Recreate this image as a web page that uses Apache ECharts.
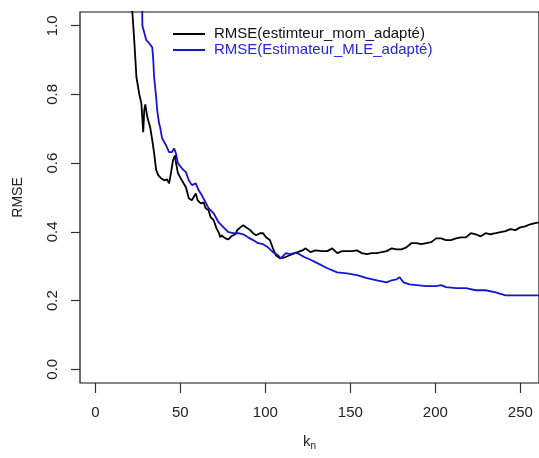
<!DOCTYPE html>
<html>
<head>
<meta charset="utf-8">
<script src="https://cdn.jsdelivr.net/npm/echarts@6/dist/echarts.min.js"></script>
<style>
html,body{margin:0;padding:0;background:#fff;}
#c{width:539px;height:458px;}
</style>
</head>
<body>
<div id="c"></div>
<script>
// k values and RMSE values
const momK = [20.1,21.8,23.0,24.2,24.7,25.9,27.1,27.6,28.2,28.8,29.4,30.6,32.3,33.5,34.6,35.8,37.0,38.7,40.5,42.2,43.4,44.5,45.7,46.9,47.4,48.6,50.9,53.3,55.0,56.8,59.1,60.2,62.0,63.7,64.9,66.6,67.8,69.6,71.3,72.5,73.6,74.2,76.5,78.3,80.0,82.4,83.5,85.3,87.0,88.8,91.1,92.8,94.6,96.9,98.7,100.4,102.7,104.5,106.2,108.6,111.5,114.4,117.3,119.0,121.9,123.7,126.6,129.5,130.6,133.6,136.5,139.4,142.3,145.2,148.1,151.0,153.9,156.8,159.8,162.7,165.6,168.5,171.4,174.3,177.2,180.1,183.0,185.9,188.9,191.8,194.7,197.6,200.5,203.4,206.3,209.2,212.2,215.1,218.0,220.9,223.8,226.7,229.6,232.5,235.5,238.4,241.3,244.2,247.1,250.0,252.9,255.8,258.1,261.6];
const momY = [1.07,1.04,0.95,0.85,0.847,0.80,0.774,0.777,0.69,0.754,0.771,0.734,0.704,0.667,0.629,0.58,0.565,0.556,0.55,0.553,0.541,0.571,0.608,0.623,0.603,0.571,0.55,0.53,0.498,0.492,0.512,0.492,0.483,0.486,0.469,0.463,0.443,0.434,0.41,0.399,0.384,0.39,0.381,0.378,0.387,0.393,0.405,0.413,0.419,0.413,0.405,0.396,0.39,0.396,0.396,0.384,0.376,0.352,0.332,0.323,0.326,0.332,0.338,0.341,0.346,0.352,0.341,0.346,0.346,0.344,0.344,0.352,0.338,0.344,0.344,0.344,0.346,0.338,0.335,0.338,0.338,0.341,0.344,0.352,0.349,0.349,0.355,0.367,0.367,0.364,0.367,0.37,0.381,0.381,0.376,0.376,0.381,0.384,0.384,0.396,0.393,0.387,0.396,0.393,0.396,0.399,0.402,0.408,0.405,0.413,0.416,0.422,0.425,0.428];
const mleK = [27.6,27.6,27.7,30.0,31.7,33.5,34.1,34.6,35.8,36.4,37.5,38.1,39.3,41.6,43.4,45.1,46.3,47.4,48.6,50.9,53.3,55.0,56.8,59.1,60.8,62.6,64.9,66.6,69.6,72.5,75.4,78.3,81.2,84.1,87.0,89.9,92.8,95.8,98.7,101.6,104.5,107.4,109.1,112.1,114.4,117.3,119.0,123.1,124.8,130.6,136.5,142.3,148.1,153.9,159.8,165.6,171.4,174.3,177.2,179.0,181.3,184.8,188.9,194.7,200.5,203.4,206.3,212.2,218.0,223.8,229.6,235.5,241.3,247.1,252.9,258.1,261.6];
const mleY = [1.07,1.04,1.00,0.958,0.949,0.937,0.90,0.85,0.792,0.754,0.716,0.705,0.672,0.652,0.632,0.632,0.643,0.629,0.60,0.585,0.574,0.55,0.536,0.541,0.521,0.507,0.486,0.469,0.454,0.428,0.413,0.399,0.396,0.396,0.393,0.384,0.376,0.367,0.364,0.355,0.341,0.332,0.323,0.338,0.335,0.338,0.338,0.326,0.323,0.309,0.294,0.282,0.279,0.274,0.265,0.259,0.253,0.259,0.262,0.268,0.253,0.247,0.245,0.242,0.242,0.245,0.239,0.236,0.236,0.23,0.23,0.224,0.215,0.215,0.215,0.215,0.215];
const xTicks = [0,50,100,150,200,250];
const yTicks = [0,0.2,0.4,0.6,0.8,1.0];
const seriesNames = ['RMSE(estimteur_mom_adapté)','RMSE(Estimateur_MLE_adapté)'];

const momData = momK.map((k,i)=>[k,momY[i]]);
const mleData = mleK.map((k,i)=>[k,mleY[i]]);

const FONT = 'Liberation Sans, Arial, sans-serif';
const chart = echarts.init(document.getElementById('c'), null, {renderer:'canvas'});
chart.setOption({
  animation:false,
  backgroundColor:'#fff',
  textStyle:{fontFamily:FONT},
  grid:{left:80, top:12, bottom:75, right:-5, show:true, borderColor:'#111', borderWidth:1.2, backgroundColor:'transparent'},
  legend:{
    orient:'vertical', left:168, top:21, itemWidth:32, itemHeight:2, itemGap:0, icon:'rect',
    textStyle:{fontFamily:FONT, fontSize:15, lineHeight:16, padding:[0,0,0,4]},
    data:[
      {name:seriesNames[0], textStyle:{color:'#111'}, itemStyle:{color:'#000'}},
      {name:seriesNames[1], textStyle:{color:'#2525e0'}, itemStyle:{color:'#1515d0'}}
    ]
  },
  xAxis:{
    type:'value', min:-9, max:261,
    splitLine:{show:false}, axisLine:{show:false, onZero:false},
    axisTick:{show:true, inside:false, length:10, customValues:xTicks, lineStyle:{color:'#333', width:1.2}},
    axisLabel:{customValues:xTicks, margin:22, fontSize:15, color:'#222', fontFamily:FONT},
    name:'{k|k}{n|n}', nameLocation:'middle', nameGap:51,
    nameTextStyle:{rich:{
      k:{fontSize:15, color:'#222', fontFamily:FONT, verticalAlign:'top', lineHeight:16},
      n:{fontSize:10, color:'#222', fontFamily:FONT, verticalAlign:'top', lineHeight:10, padding:[7,0,0,0]}
    }}
  },
  yAxis:{
    type:'value', min:-0.04, max:1.04,
    splitLine:{show:false}, axisLine:{show:false, onZero:false},
    axisTick:{show:true, inside:false, length:9, customValues:yTicks, lineStyle:{color:'#333', width:1.2}},
    axisLabel:{customValues:yTicks, rotate:90, margin:20, fontSize:15, color:'#222', fontFamily:FONT,
      formatter:v=>v.toFixed(1)},
    name:'RMSE', nameLocation:'middle', nameGap:55, nameRotate:90,
    nameTextStyle:{fontSize:14, color:'#222', fontFamily:FONT}
  },
  series:[
    {name:seriesNames[0], type:'line', data:momData, showSymbol:false, symbol:'none', clip:true,
      lineStyle:{color:'#000', width:1.8}, itemStyle:{color:'#000'}},
    {name:seriesNames[1], type:'line', data:mleData, showSymbol:false, symbol:'none', clip:true,
      lineStyle:{color:'#1515d0', width:1.8}, itemStyle:{color:'#1515d0'}}
  ]
});
</script>
</body>
</html>
